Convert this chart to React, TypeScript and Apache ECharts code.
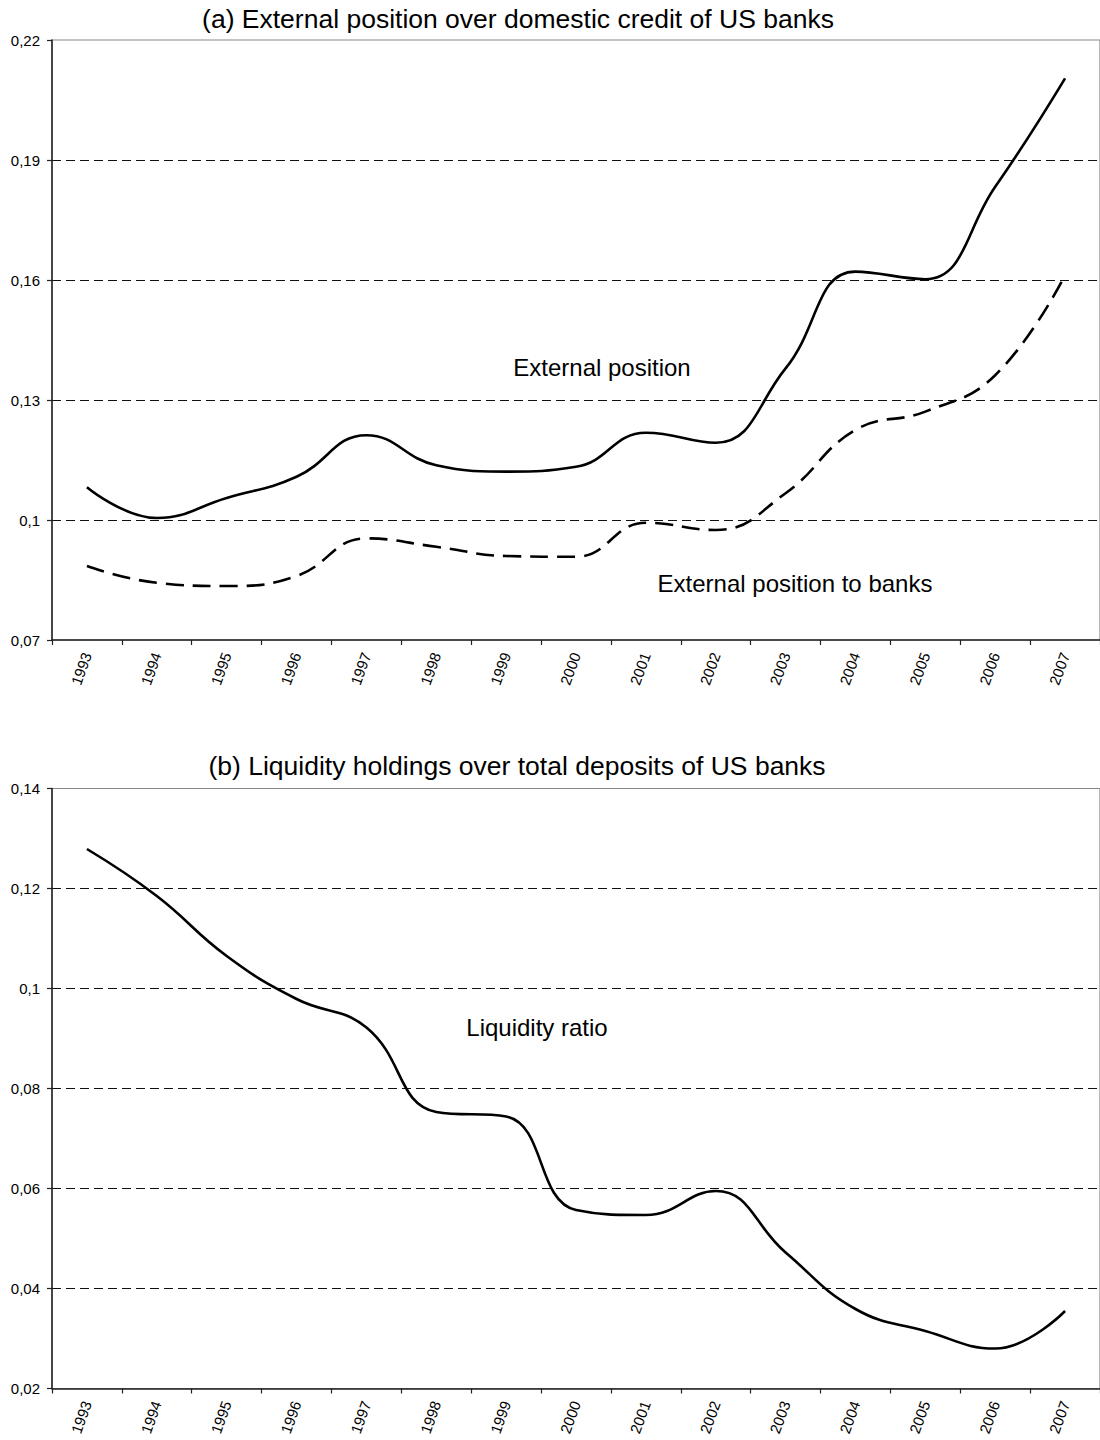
import React, { useEffect, useRef } from "react";
import * as echarts from "echarts";

const years = ["1993", "1994", "1995", "1996", "1997", "1998", "1999", "2000", "2001", "2002", "2003", "2004", "2005", "2006", "2007"];
const externalPosition = [0.1082, 0.1005, 0.1055, 0.1108, 0.1212, 0.1137, 0.1121, 0.1133, 0.1218, 0.1193, 0.1379, 0.1621, 0.1602, 0.1833, 0.2104];
const externalToBanks = [0.0885, 0.0843, 0.0835, 0.086, 0.0954, 0.0933, 0.091, 0.0908, 0.0993, 0.0975, 0.1067, 0.1225, 0.1271, 0.1362, 0.1612];
const liquidityRatio = [0.1279, 0.1185, 0.1065, 0.0979, 0.0922, 0.0753, 0.0744, 0.0557, 0.0547, 0.0595, 0.0472, 0.0359, 0.0315, 0.028, 0.0355];

const titleA = "(a) External position over domestic credit of US banks";
const titleB = "(b) Liquidity holdings over total deposits of US banks";
const labelExternal = "External position";
const labelBanks = "External position to banks";
const labelLiquidity = "Liquidity ratio";

const FONT = "'Liberation Sans', Arial, sans-serif";

const fmt = (v: number) => String(+v.toFixed(2)).replace(".", ",");

export default function App() {
  const ref = useRef<HTMLDivElement>(null);
  useEffect(() => {
    if (!ref.current) return;
    const chart = echarts.init(ref.current, undefined, { renderer: "svg" });
    const xAxisBase = (gridIndex: number) => ({
      type: "category" as const,
      gridIndex,
      data: years,
      boundaryGap: true,
      axisLine: { lineStyle: { color: "#222", width: 1.5 } },
      axisTick: { show: true, length: 5, inside: false, lineStyle: { color: "#222", width: 1.2 } },
      axisLabel: { rotate: 70, margin: 13, fontSize: 15, color: "#000", fontFamily: FONT, interval: 0 },
      splitLine: { show: false },
    });
    const yAxisBase = (gridIndex: number, min: number, max: number, interval: number) => {
      const n = Math.round((max - min) / interval) + 1;
      const colors = Array.from({ length: n }, (_, i) => (i === 0 || i === n - 1 ? "rgba(0,0,0,0)" : "#111"));
      return {
        type: "value" as const,
        gridIndex,
        min,
        max,
        interval,
        axisLine: { show: true, lineStyle: { color: "#222", width: 1.5 } },
        axisTick: { show: true, length: 5, lineStyle: { color: "#222", width: 1.2 } },
        axisLabel: { margin: 12, fontSize: 15, color: "#000", fontFamily: FONT, formatter: (v: number) => fmt(v) },
        splitLine: { show: true, lineStyle: { color: colors, width: 1, type: [9, 5] } },
      };
    };
    const option: any = {
      animation: false,
      backgroundColor: "#fff",
      grid: [
        { left: 52, right: -5, top: 40, height: 600, show: true, borderColor: "#888", borderWidth: 1.2, backgroundColor: "transparent" },
        { left: 52, right: -5, top: 788.5, height: 600, show: true, borderColor: "#888", borderWidth: 1.2, backgroundColor: "transparent" },
      ],
      xAxis: [xAxisBase(0), xAxisBase(1)],
      yAxis: [yAxisBase(0, 0.07, 0.22, 0.03), yAxisBase(1, 0.02, 0.14, 0.02)],
      series: [
        {
          name: labelExternal,
          type: "line",
          xAxisIndex: 0,
          yAxisIndex: 0,
          data: externalPosition,
          smooth: 0.45,
          symbol: "none",
          lineStyle: { color: "#000", width: 2.6 },
        },
        {
          name: labelBanks,
          type: "line",
          xAxisIndex: 0,
          yAxisIndex: 0,
          data: externalToBanks,
          smooth: 0.45,
          symbol: "none",
          lineStyle: { color: "#000", width: 2.6, type: [18, 9] },
        },
        {
          name: labelLiquidity,
          type: "line",
          xAxisIndex: 1,
          yAxisIndex: 1,
          data: liquidityRatio,
          smooth: 0.45,
          symbol: "none",
          lineStyle: { color: "#000", width: 2.6 },
        },
      ],
      graphic: [
        { type: "text", x: 518, y: 19, style: { text: titleA, fill: "#000", font: `26.5px ${FONT}`, textAlign: "center", textVerticalAlign: "middle" } },
        { type: "text", x: 517, y: 766, style: { text: titleB, fill: "#000", font: `26.5px ${FONT}`, textAlign: "center", textVerticalAlign: "middle" } },
        { type: "text", x: 602, y: 367, style: { text: labelExternal, fill: "#000", font: `24px ${FONT}`, textAlign: "center", textVerticalAlign: "middle" } },
        { type: "text", x: 795, y: 583, style: { text: labelBanks, fill: "#000", font: `24px ${FONT}`, textAlign: "center", textVerticalAlign: "middle" } },
        { type: "text", x: 537, y: 1027, style: { text: labelLiquidity, fill: "#000", font: `24px ${FONT}`, textAlign: "center", textVerticalAlign: "middle" } },
      ],
    };
    chart.setOption(option);
    return () => chart.dispose();
  }, []);
  return <div ref={ref} style={{ position: "absolute", left: 0, top: 0, width: 1100, height: 1440, background: "#fff" }} />;
}
